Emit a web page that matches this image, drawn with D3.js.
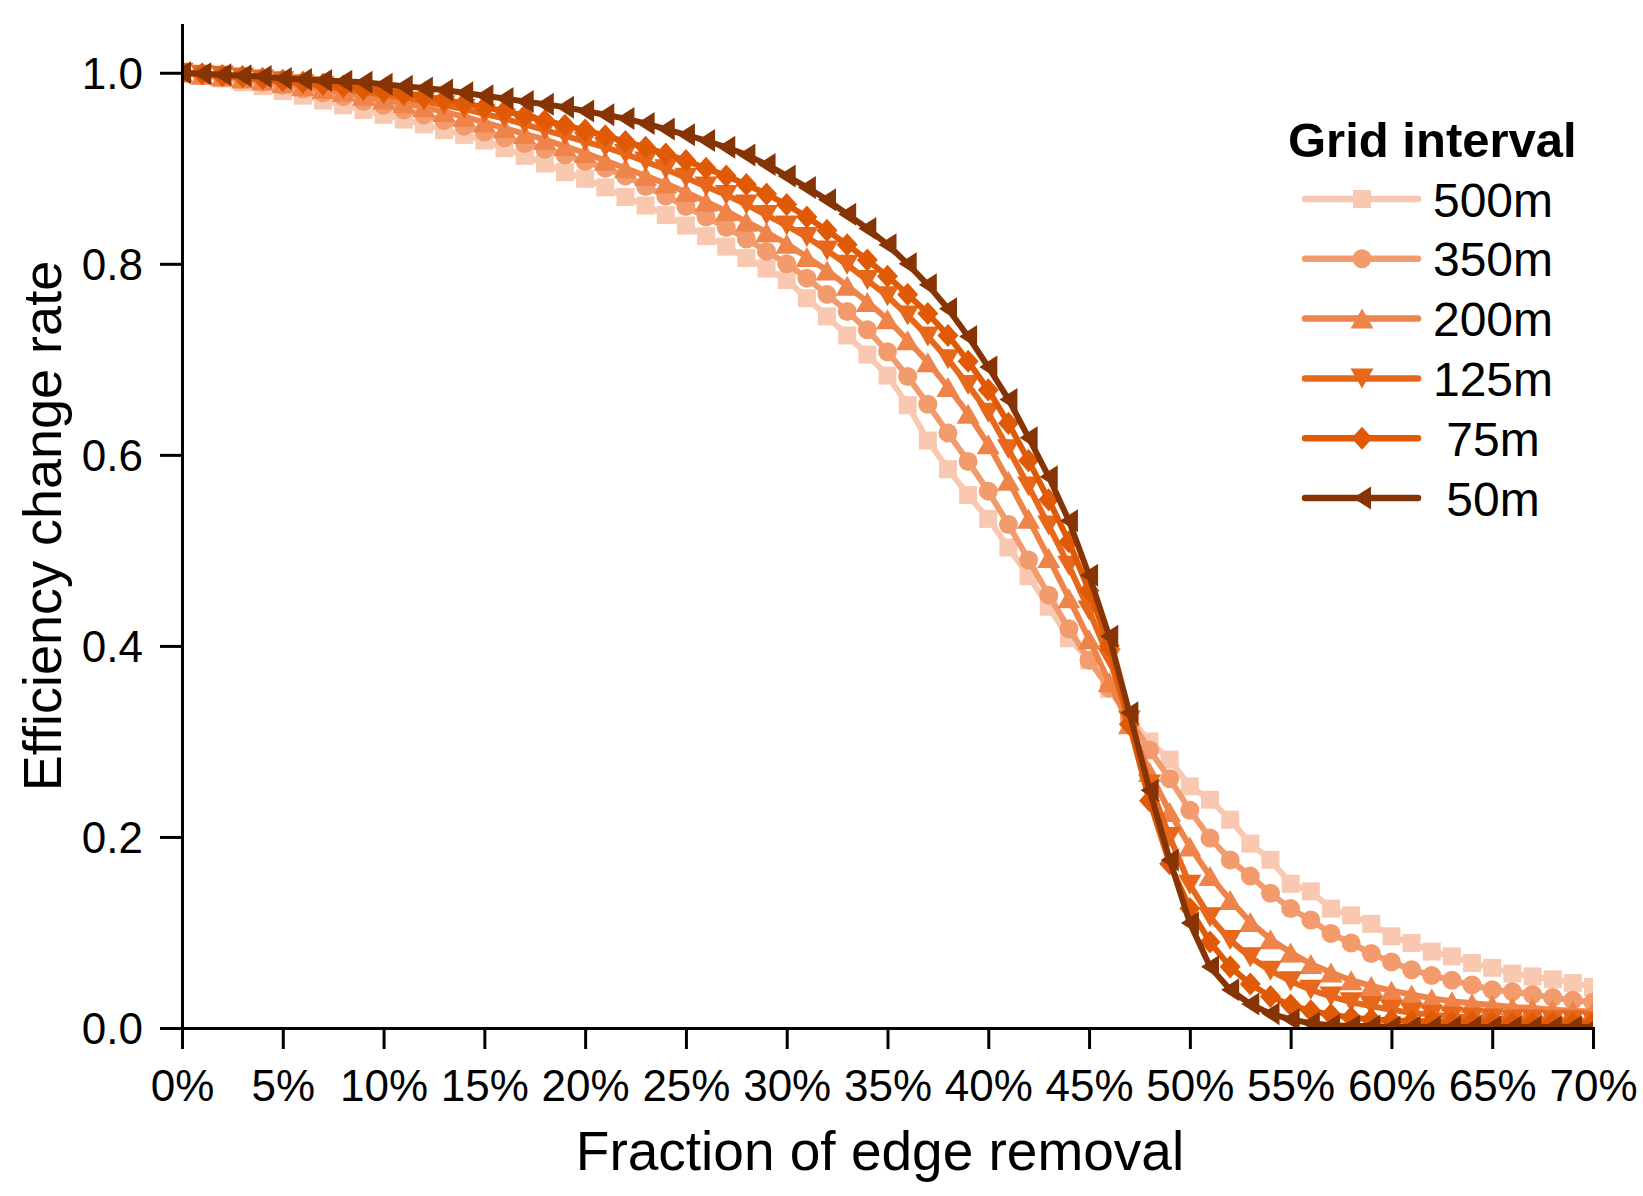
<!DOCTYPE html>
<html>
<head>
<meta charset="utf-8">
<script src="https://cdn.jsdelivr.net/npm/d3@7"></script>
<style>
  body { margin: 0; background: #fff; }
  .tick text { font-family: "Liberation Sans Narrow", "Liberation Sans", sans-serif; font-size: 44px; fill: #000; }
  .axis path, .axis line { stroke: #000; stroke-width: 3; }
  .axis path { stroke-linecap: square; }
</style>
</head>
<body>
<div id="chart"></div>
<script>
// fraction of removed edges, in percent
let fractions = [
  0, 1, 2, 3, 4, 5, 6, 7, 8, 9,
  10, 11, 12, 13, 14, 15, 16, 17, 18, 19,
  20, 21, 22, 23, 24, 25, 26, 27, 28, 29,
  30, 31, 32, 33, 34, 35, 36, 37, 38, 39,
  40, 41, 42, 43, 44, 45, 46, 47, 48, 49,
  50, 51, 52, 53, 54, 55, 56, 57, 58, 59,
  60, 61, 62, 63, 64, 65, 66, 67, 68, 69,
  70
];

let intervals = ['500m', '350m', '200m', '125m', '75m', '50m'];

// efficiency change rate
let eff500 = [
  1.000, 0.997, 0.994, 0.990, 0.986, 0.981, 0.976, 0.971, 0.966, 0.961,
  0.956, 0.951, 0.946, 0.940, 0.935, 0.929, 0.921, 0.913, 0.905, 0.896,
  0.889, 0.880, 0.870, 0.861, 0.851, 0.840, 0.829, 0.818, 0.806, 0.795,
  0.783, 0.764, 0.745, 0.725, 0.705, 0.683, 0.652, 0.615, 0.585, 0.558,
  0.533, 0.503, 0.473, 0.441, 0.408, 0.385, 0.355, 0.325, 0.300, 0.281,
  0.253, 0.239, 0.218, 0.193, 0.176, 0.151, 0.143, 0.125, 0.118, 0.109,
  0.096, 0.089, 0.080, 0.075, 0.068, 0.063, 0.057, 0.054, 0.051, 0.047,
  0.043
];
let eff350 = [
  1.000, 0.998, 0.996, 0.993, 0.990, 0.987, 0.983, 0.979, 0.975, 0.970,
  0.966, 0.961, 0.956, 0.950, 0.944, 0.938, 0.932, 0.926, 0.920, 0.914,
  0.907, 0.900, 0.892, 0.881, 0.871, 0.860, 0.849, 0.838, 0.826, 0.813,
  0.800, 0.785, 0.768, 0.750, 0.731, 0.708, 0.682, 0.653, 0.623, 0.593,
  0.562, 0.527, 0.490, 0.453, 0.418, 0.385, 0.356, 0.324, 0.291, 0.261,
  0.228, 0.199, 0.176, 0.159, 0.141, 0.125, 0.113, 0.099, 0.089, 0.078,
  0.069, 0.061, 0.055, 0.050, 0.045, 0.040, 0.038, 0.035, 0.032, 0.029,
  0.027
];
let eff200 = [
  1.000, 0.998, 0.996, 0.994, 0.992, 0.989, 0.986, 0.983, 0.980, 0.976,
  0.972, 0.968, 0.964, 0.959, 0.954, 0.948, 0.942, 0.936, 0.930, 0.923,
  0.916, 0.908, 0.900, 0.892, 0.884, 0.875, 0.865, 0.855, 0.844, 0.833,
  0.821, 0.807, 0.793, 0.777, 0.760, 0.742, 0.720, 0.697, 0.671, 0.643,
  0.611, 0.573, 0.533, 0.492, 0.450, 0.407, 0.362, 0.318, 0.268, 0.226,
  0.190, 0.159, 0.134, 0.111, 0.093, 0.079, 0.067, 0.058, 0.050, 0.044,
  0.039, 0.035, 0.031, 0.028, 0.026, 0.024, 0.022, 0.021, 0.019, 0.018,
  0.017
];
let eff125 = [
  1.000, 0.998, 0.997, 0.995, 0.993, 0.991, 0.988, 0.986, 0.983, 0.980,
  0.977, 0.974, 0.970, 0.966, 0.962, 0.957, 0.952, 0.946, 0.940, 0.934,
  0.928, 0.922, 0.915, 0.907, 0.899, 0.890, 0.881, 0.872, 0.862, 0.851,
  0.840, 0.828, 0.814, 0.799, 0.783, 0.766, 0.746, 0.724, 0.700, 0.673,
  0.644, 0.606, 0.567, 0.526, 0.484, 0.437, 0.387, 0.322, 0.255, 0.200,
  0.150, 0.116, 0.092, 0.074, 0.060, 0.049, 0.040, 0.033, 0.027, 0.023,
  0.019, 0.016, 0.014, 0.012, 0.011, 0.010, 0.009, 0.009, 0.008, 0.008,
  0.007
];
let eff75 = [
  1.000, 0.999, 0.997, 0.996, 0.994, 0.992, 0.990, 0.988, 0.986, 0.983,
  0.981, 0.978, 0.975, 0.972, 0.968, 0.964, 0.960, 0.955, 0.950, 0.945,
  0.940, 0.934, 0.928, 0.922, 0.915, 0.908, 0.900, 0.892, 0.883, 0.873,
  0.862, 0.849, 0.835, 0.820, 0.804, 0.787, 0.768, 0.748, 0.725, 0.698,
  0.668, 0.633, 0.594, 0.553, 0.509, 0.458, 0.400, 0.318, 0.238, 0.172,
  0.125, 0.090, 0.064, 0.046, 0.033, 0.024, 0.018, 0.014, 0.011, 0.009,
  0.008, 0.007, 0.007, 0.006, 0.006, 0.006, 0.005, 0.005, 0.005, 0.005,
  0.005
];
let eff50 = [
  1.000, 0.999, 0.998, 0.997, 0.996, 0.994, 0.993, 0.992, 0.991, 0.990,
  0.988, 0.986, 0.984, 0.982, 0.979, 0.976, 0.973, 0.970, 0.967, 0.964,
  0.960, 0.956, 0.952, 0.947, 0.941, 0.935, 0.929, 0.922, 0.914, 0.904,
  0.892, 0.880, 0.867, 0.852, 0.837, 0.820, 0.800, 0.778, 0.753, 0.724,
  0.692, 0.658, 0.618, 0.577, 0.531, 0.474, 0.410, 0.330, 0.249, 0.176,
  0.110, 0.064, 0.040, 0.025, 0.015, 0.009, 0.005, 0.003, 0.002, 0.002,
  0.001, 0.001, 0.001, 0.001, 0.001, 0.001, 0.001, 0.001, 0.001, 0.001,
  0.001
];

let xTicks = [0, 5, 10, 15, 20, 25, 30, 35, 40, 45, 50, 55, 60, 65, 70];
let yTicks = [0, 0.2, 0.4, 0.6, 0.8, 1.0];

let colors = ['#f9c8b0', '#f29c6e', '#ee8449', '#e7671b', '#e05a06', '#873404'];

// marker shapes, size = half extent in px
let shapes = {
  square: { draw(c, s) { c.rect(-s, -s, 2 * s, 2 * s); } },
  circle: { draw(c, s) { c.moveTo(s, 0); c.arc(0, 0, s, 0, 2 * Math.PI); } },
  up: { draw(c, s) { c.moveTo(0, -s); c.lineTo(s * 1.15, s); c.lineTo(-s * 1.15, s); c.closePath(); } },
  down: { draw(c, s) { c.moveTo(0, s); c.lineTo(s * 1.15, -s); c.lineTo(-s * 1.15, -s); c.closePath(); } },
  diamond: { draw(c, s) { c.moveTo(0, -s * 1.1); c.lineTo(s, 0); c.lineTo(0, s * 1.1); c.lineTo(-s, 0); c.closePath(); } },
  left: { draw(c, s) { c.moveTo(-s * 0.9, 0); c.lineTo(s * 0.9, -s * 1.15); c.lineTo(s * 0.9, s * 1.15); c.closePath(); } }
};

let series = [
  { name: intervals[0], values: eff500, color: colors[0], shape: shapes.square, size: 9 },
  { name: intervals[1], values: eff350, color: colors[1], shape: shapes.circle, size: 9.5 },
  { name: intervals[2], values: eff200, color: colors[2], shape: shapes.up, size: 10 },
  { name: intervals[3], values: eff125, color: colors[3], shape: shapes.down, size: 10 },
  { name: intervals[4], values: eff75, color: colors[4], shape: shapes.diamond, size: 10.5 },
  { name: intervals[5], values: eff50, color: colors[5], shape: shapes.left, size: 10 }
];

let width = 1643;
let height = 1196;

let xScale = d3.scaleLinear().domain([0, 70]).range([182, 1593]);
let yScale = d3.scaleLinear().domain([0, 1.05]).range([1028, 25]);

let svg = d3.select('#chart')
  .append('svg')
  .attr('width', width)
  .attr('height', height);

svg.append('rect')
  .attr('width', width)
  .attr('height', height)
  .attr('fill', '#fff');

svg.append('clipPath')
  .attr('id', 'plot-clip')
  .append('rect')
  .attr('x', xScale(0))
  .attr('y', 0)
  .attr('width', xScale(70) - xScale(0))
  .attr('height', yScale(0));

let line = d3.line()
  .x((d, i) => xScale(fractions[i]))
  .y(d => yScale(d));

// lines + markers, lightest first
let plot = svg.append('g')
  .attr('class', 'series')
  .attr('clip-path', 'url(#plot-clip)');

series.forEach(function (s) {
  let g = plot.append('g');
  g.append('path')
    .datum(s.values)
    .attr('fill', 'none')
    .attr('stroke', s.color)
    .attr('stroke-width', 6)
    .attr('stroke-linejoin', 'round')
    .attr('d', line);
  g.selectAll('path.marker')
    .data(s.values)
    .join('path')
    .attr('class', 'marker')
    .attr('fill', s.color)
    .attr('transform', (d, i) => `translate(${xScale(fractions[i])}, ${yScale(d)})`)
    .attr('d', d3.symbol(s.shape, s.size));
});

// axes
let xAxis = d3.axisBottom(xScale)
  .tickValues(xTicks)
  .tickSize(21)
  .tickSizeOuter(0)
  .tickFormat(d => d + '%');

let yAxis = d3.axisLeft(yScale)
  .tickValues(yTicks)
  .tickSize(22)
  .tickSizeOuter(0)
  .tickPadding(17)
  .tickFormat(d3.format('.1f'));

svg.append('g')
  .attr('class', 'axis x-axis')
  .attr('transform', `translate(0, ${yScale(0)})`)
  .call(xAxis)
  .selectAll('text')
  .attr('y', 73)
  .attr('dy', null);

svg.append('g')
  .attr('class', 'axis y-axis')
  .attr('transform', `translate(${xScale(0)}, 0)`)
  .call(yAxis)
  .selectAll('text')
  .attr('dy', '0.36em');

svg.selectAll('.axis .domain').attr('stroke-width', 3);

// axis titles
svg.append('text')
  .attr('x', 880)
  .attr('y', 1170)
  .attr('text-anchor', 'middle')
  .style('font-family', '"Liberation Sans", sans-serif')
  .style('font-size', '55px')
  .text('Fraction of edge removal');

svg.append('text')
  .attr('transform', 'translate(61, 526) rotate(-90)')
  .attr('text-anchor', 'middle')
  .style('font-family', '"Liberation Sans", sans-serif')
  .style('font-size', '54px')
  .text('Efficiency change rate');

// legend
let legend = svg.append('g').attr('class', 'legend');

legend.append('text')
  .attr('x', 1288)
  .attr('y', 157)
  .style('font-family', '"Liberation Sans", sans-serif')
  .style('font-size', '49px')
  .style('font-weight', 'bold')
  .text('Grid interval');

let rows = legend.selectAll('g.row')
  .data(series)
  .join('g')
  .attr('class', 'row')
  .attr('transform', (d, i) => `translate(0, ${199 + i * 59.8})`);

rows.append('line')
  .attr('x1', 1305)
  .attr('x2', 1418)
  .attr('stroke', d => d.color)
  .attr('stroke-width', 6.5)
  .attr('stroke-linecap', 'round');

rows.append('path')
  .attr('transform', 'translate(1362, 0)')
  .attr('fill', d => d.color)
  .attr('d', d => d3.symbol(d.shape, d.size)());

rows.append('text')
  .attr('x', 1493)
  .attr('y', 17.5)
  .attr('text-anchor', 'middle')
  .style('font-family', '"Liberation Sans", sans-serif')
  .style('font-size', '48px')
  .text(d => d.name);
</script>
</body>
</html>
